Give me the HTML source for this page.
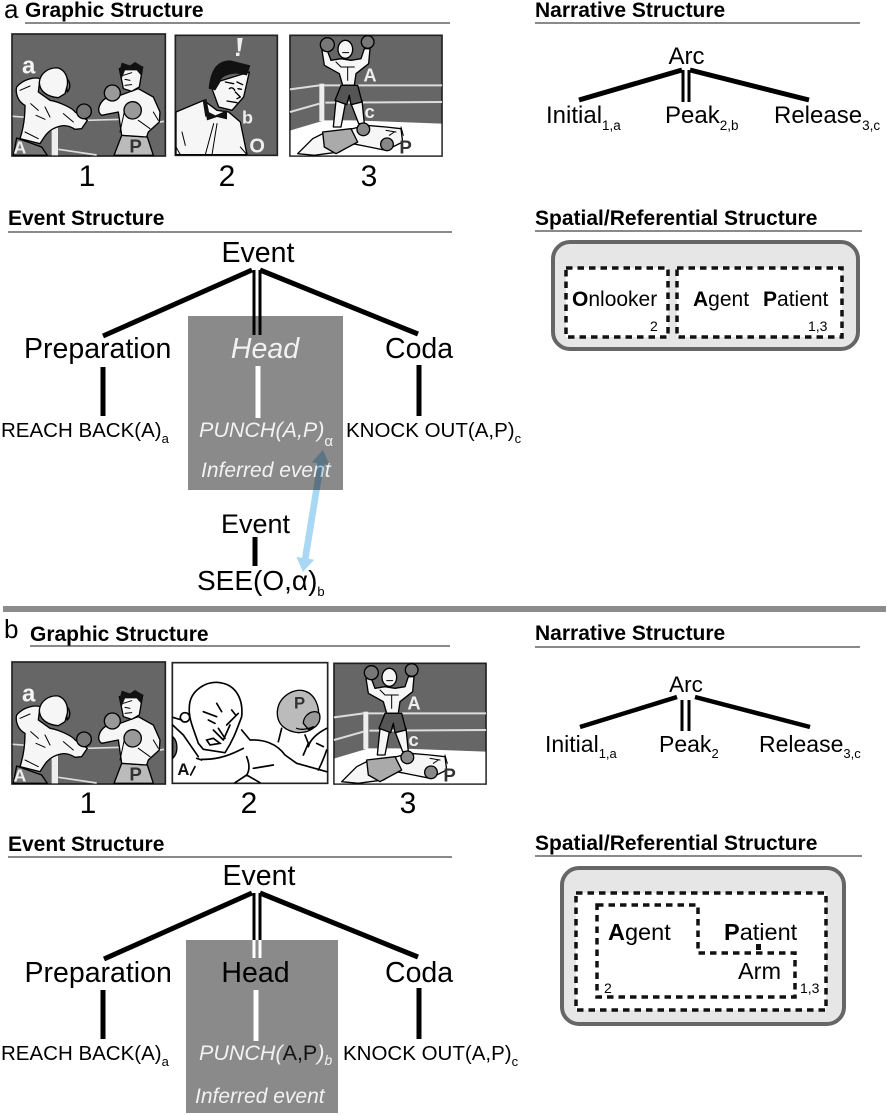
<!DOCTYPE html>
<html><head><meta charset="utf-8"><style>
html,body{margin:0;padding:0;background:#fff}
svg{display:block}
text{font-family:"Liberation Sans",Arial,sans-serif;fill:#000}
.h{font-weight:bold;font-size:21px}
.big{font-size:28.5px}
.mid{font-size:24px}
.sm{font-size:20.5px}
.num{font-size:30px;text-anchor:middle}
.it{font-style:italic;fill:#f2f2f2;font-size:21.5px}
.lab{font-weight:bold}
.ln{stroke:#000;fill:none}
.rule{stroke:#444;stroke-width:1.2}
.ol{stroke:#000;stroke-width:4;stroke-linejoin:round;stroke-linecap:round}
.thin{fill:none;stroke:#000;stroke-width:3;stroke-linecap:round;stroke-linejoin:round}
.fat{fill:none;stroke:#000;stroke-width:5;stroke-linecap:round;stroke-linejoin:round}
.dash{fill:#fff;stroke:#111;stroke-width:3.5;stroke-dasharray:6.5 5}
</style></head><body>
<svg width="887" height="1115" viewBox="0 0 887 1115" xmlns="http://www.w3.org/2000/svg">
<defs>
<g id="p1">
<rect x="6" y="6" width="460" height="366" fill="#666" stroke="#222" stroke-width="5"/>
<path d="M8 253L50 256M230 265L335 262M440 272L462 268M145 352L260 369" stroke="#ddd" stroke-width="5" fill="none"/>
<rect x="125" y="285" width="19" height="85" fill="#eee"/>
<path class="ol" fill="#777" d="M20 318L95 345L112 370H10z"/>
<path class="ol" fill="#f6f6f6" d="M20 165C40 140 75 135 90 140L85 180L120 205C150 210 190 230 195 240L232 265L215 290L195 292C170 275 150 280 130 290C110 300 100 320 90 335L30 320C40 290 45 260 45 220C25 210 15 185 20 165z"/>
<path class="thin" d="M62 215L85 235M105 225L120 255M78 250L105 262M30 175L60 162M160 245L190 270M45 300L85 320"/>
<path class="ol" fill="#777" d="M165 135C180 145 185 165 172 180z"/>
<path class="ol" fill="#f6f6f6" d="M88 150C92 120 120 105 145 108C165 115 175 135 172 160L165 185L145 197C115 195 88 180 88 150z"/>
<circle class="ol" cx="222" cy="238" r="22" fill="#777"/>
<path class="ol" fill="#bbb" d="M335 310L412 315L430 370H312z"/>
<path class="ol" fill="#f6f6f6" d="M330 190L385 170L430 195L450 240L448 270L415 300L410 315L335 310L325 240L275 250C260 240 265 215 285 200z"/>
<path class="ol" fill="#f6f6f6" d="M328 110L398 105L388 165L365 178L340 170z"/>
<path fill="#111" d="M328 118L335 92L360 100L375 90L400 105L393 130L380 115L345 115L335 140z"/>
<path class="thin" d="M340 130L365 122M345 160L365 158M345 142L360 145M385 265L420 290M430 240L445 265M345 230L330 300"/>
<circle class="ol" cx="307" cy="183" r="24" fill="#999"/>
<circle class="ol" cx="368" cy="235" r="26" fill="#999"/>
<text x="36" y="125" font-size="72" style="fill:#f4f4f4" class="lab">a</text>
<text x="10" y="365" font-size="54" style="fill:#eee" class="lab">A</text>
<text x="358" y="362" font-size="56" style="fill:#333" class="lab">P</text>
</g>
<g id="p3">
<rect x="12" y="10" width="456" height="362" fill="#666" stroke="#222" stroke-width="5"/>
<path d="M12 172L100 160M115 160L468 160M118 212L468 210M12 240L100 215" stroke="#ddd" stroke-width="6" fill="none"/>
<rect x="100" y="155" width="15" height="112" fill="#eee"/>
<path fill="#fff" d="M14 295L115 265L200 265L466 275V370H14z"/>
<path class="ol" fill="#f6f6f6" d="M150 205L142 285H165L178 215zM195 215L218 275H235L228 205z"/>
<path class="ol" fill="#f6f6f6" d="M108 55L125 58L135 85L165 80L195 85L225 80L235 50L252 50L248 95L210 125L205 160H170L160 125L115 100z"/>
<path class="ol" fill="#555" d="M165 160H215L228 210L195 218L190 190L182 218L147 205z"/>
<ellipse class="ol" cx="178" cy="52" rx="22" ry="27" fill="#f6f6f6"/>
<circle class="ol" cx="124" cy="38" r="21" fill="#777"/>
<circle class="ol" cx="245" cy="30" r="19" fill="#777"/>
<path class="thin" d="M165 105L205 105M185 105V145M150 90L165 105M170 62L188 62"/>
<path class="ol" fill="#f6f6f6" d="M35 365L80 320L120 300L200 290L240 280L300 285L345 290L350 330L300 355L250 345L200 335L160 360L120 365L85 370z"/>
<path class="ol" fill="#aaa" d="M110 300L195 290L215 330L150 365L115 345z"/>
<path class="thin" d="M300 295L330 300M310 310L325 300M345 285L352 310"/>
<circle class="ol" cx="232" cy="292" r="19" fill="#888"/>
<circle class="ol" cx="303" cy="337" r="19" fill="#888"/>
<text x="232" y="148" font-size="55" style="fill:#eee" class="lab">A</text>
<text x="235" y="258" font-size="56" style="fill:#eee" class="lab">c</text>
<text x="340" y="364" font-size="56" style="fill:#333" class="lab">P</text>
</g>
</defs>

<!-- PART A -->
<text x="4" y="18" font-size="26">a</text>
<text class="h" x="25" y="17">Graphic Structure</text>
<line class="rule" x1="25" y1="23" x2="450" y2="23"/>
<text class="h" x="535" y="17">Narrative Structure</text>
<line class="rule" x1="535" y1="23" x2="860" y2="23"/>
<g transform="translate(10,32) scale(.33333)"><use href="#p1"/></g>
<g transform="translate(172,32) scale(.33333)">
<rect x="10" y="10" width="306" height="360" fill="#666" stroke="#222" stroke-width="5"/>
<path class="ol" fill="#f6f6f6" d="M12 240L95 205L135 235L170 240L205 270L225 368H12z"/>
<path class="ol" fill="#f6f6f6" d="M135 150L232 120L215 195L180 235L140 225L120 170z"/>
<path fill="#111" d="M110 170C115 120 130 85 175 85L235 100L225 130L195 125C170 125 145 135 145 150L130 175z"/>
<path fill="#111" d="M92 205L103 200L112 245L100 255zM100 235L130 250L165 235L165 262L135 255L105 265z"/>
<path class="ol" fill="none" d="M165 207L195 212M160 150L185 155M195 150L212 158"/>
<path class="ol" fill="none" stroke-width="5" d="M172 170C178 165 185 168 188 175M198 170L208 172M190 180L205 195L195 200"/>
<path class="thin" d="M125 275L100 368M135 275L120 368M30 300L40 340M12 345L25 368M205 345L225 368"/>
<path fill="#eee" d="M196 18L212 18L205 58L198 58zM192 62L203 62L202 72L192 72z"/>
<text x="210" y="275" font-size="54" style="fill:#eee" class="lab">b</text>
<text x="232" y="362" font-size="60" style="fill:#eee" class="lab">O</text>
</g>
<g transform="translate(286,32) scale(.33333)"><use href="#p3"/></g>
<text class="num" x="87" y="186">1</text>
<text class="num" x="227" y="186">2</text>
<text class="num" x="369" y="186">3</text>

<!-- narrative a -->
<text class="mid" x="686.5" y="64" text-anchor="middle">Arc</text>
<path class="ln" stroke-width="5" d="M579 100L682 70M690 70L809 100"/>
<path class="ln" stroke-width="3" d="M683 70V102M689 70V102"/>
<text class="mid" x="546" y="123">Initial<tspan font-size="13.5" dy="7">1,a</tspan></text>
<text class="mid" x="665" y="123">Peak<tspan font-size="13.5" dy="7">2,b</tspan></text>
<text class="mid" x="774" y="123">Release<tspan font-size="13.5" dy="7">3,c</tspan></text>

<!-- event a -->
<text class="h" x="8" y="225">Event Structure</text>
<line class="rule" x1="8" y1="232" x2="452" y2="232"/>
<rect x="188" y="316" width="155" height="174" fill="#8a8a8a"/>
<text class="big" x="258" y="262" text-anchor="middle">Event</text>
<path class="ln" stroke-width="5" d="M103 336L252 270M260 270L418 334"/>
<path class="ln" stroke-width="3" d="M254 270V335M260 270V335"/>
<text class="big" x="24" y="358">Preparation</text>
<text class="big it" x="265" y="358" text-anchor="middle" style="font-size:28.5px">Head</text>
<text class="big" x="385" y="358">Coda</text>
<path class="ln" stroke-width="5" d="M103 367V416M419 365V416"/>
<path stroke="#fff" stroke-width="5" d="M258 366V418"/>
<text class="sm" x="1" y="437">REACH BACK(A)<tspan font-size="13" dy="6">a</tspan></text>
<text class="it" x="199" y="437">PUNCH(A,P)<tspan font-size="15" dy="9" style="font-style:normal">α</tspan></text>
<text class="sm" x="346" y="437">KNOCK OUT(A,P)<tspan font-size="13" dy="6">c</tspan></text>
<text class="it" x="201" y="477" style="font-size:21px">Inferred event</text>
<text x="221" y="533" font-size="27">Event</text>
<path class="ln" stroke-width="5" d="M255 537V566"/>
<text x="197" y="590" font-size="28">SEE(O,α)<tspan font-size="13" dy="6">b</tspan></text>
<path style="mix-blend-mode:multiply" fill="#a9d8f5" d="M323 450L329.6 465.3L324 464.3L308.6 558.7L314.2 559.7L303 572L296.4 556.7L302 557.7L317.4 463.3L311.8 462.3z"/>

<!-- spatial a -->
<text class="h" x="535" y="225">Spatial/Referential Structure</text>
<line class="rule" x1="535" y1="231" x2="862" y2="231"/>
<rect x="553" y="242" width="305" height="107" rx="17" fill="#e6e6e6" stroke="#666" stroke-width="4"/>
<rect class="dash" x="566" y="268" width="102" height="69"/>
<rect class="dash" x="677" y="268" width="165" height="69"/>
<text font-size="21" x="572" y="306"><tspan font-weight="bold">O</tspan>nlooker</text>
<text font-size="21" x="693" y="306"><tspan font-weight="bold">A</tspan>gent</text>
<text font-size="21" x="763" y="306"><tspan font-weight="bold">P</tspan>atient</text>
<text font-size="14" x="650" y="331">2</text>
<text font-size="14" x="808" y="331">1,3</text>

<rect x="3" y="606" width="883" height="6" fill="#8c8c8c"/>

<!-- PART B -->
<text x="4" y="638" font-size="26">b</text>
<text class="h" x="30" y="641">Graphic Structure</text>
<line class="rule" x1="30" y1="646" x2="450" y2="646"/>
<text class="h" x="535" y="640">Narrative Structure</text>
<line class="rule" x1="535" y1="647" x2="860" y2="647"/>
<g transform="translate(10,660) scale(.33333)"><use href="#p1"/></g>
<g transform="translate(330,660) scale(.33333)"><use href="#p3"/></g>
<g transform="translate(170,660) scale(.33333)">
<rect x="7" y="8" width="466" height="362" fill="#fff" stroke="#222" stroke-width="5"/>
<path d="M8 230C25 245 25 280 8 295z" fill="#666" stroke="#000" stroke-width="4"/>
<circle class="fat" cx="45" cy="172" r="14" fill="#fff"/>
<path class="fat" d="M58 140C60 90 110 62 150 68C200 75 220 120 215 170C200 210 190 240 165 278L100 268L85 250C70 205 55 175 58 140z" style="fill:#fff"/>
<path class="fat" d="M8 172L35 180M8 195L40 225L85 290M95 298C150 300 190 280 220 265M215 210L240 240C280 238 320 250 345 285L380 310L470 335M230 290C238 310 240 330 230 345M250 325L310 315M195 368L230 345L270 368M335 205L325 245M405 225L415 250L400 285M470 205C440 220 420 240 415 260M440 250L460 260M470 270C460 300 450 320 445 330M80 295L95 300"/>
<path class="fat" d="M100 155L140 170M205 160L170 195M115 180L135 190M140 130L155 155M185 150L197 165M130 210L160 240L180 195M145 205L165 235"/>
<path d="M110 240L130 235L150 250L120 255z" fill="#fff" stroke="#000" stroke-width="5"/>
<path class="ol" fill="#bbb" stroke-width="5" d="M322 155C325 110 370 85 400 92C435 100 450 140 445 175C445 200 420 218 385 218C350 215 320 195 322 155z"/>
<path class="ol" fill="#999" stroke-width="5" d="M400 190C400 165 430 145 448 160C455 185 440 205 415 208z"/>
<path class="ol" fill="none" stroke-width="5" d="M380 205C395 212 420 205 430 200"/>
<text x="372" y="146" font-size="50" style="fill:#333" class="lab">P</text>
<text x="22" y="345" font-size="50" style="fill:#111" class="lab">A</text>
<path class="fat" d="M62 345L75 320"/>
</g>
<text class="num" x="88" y="813">1</text>
<text class="num" x="249" y="813">2</text>
<text class="num" x="408" y="813">3</text>

<!-- narrative b -->
<text x="686" y="692" font-size="22.5" text-anchor="middle">Arc</text>
<path class="ln" stroke-width="4.5" d="M580 727L677 697M695 697L810 727"/>
<path class="ln" stroke-width="3" d="M682 700V731M689 700V731"/>
<text x="545" y="752" font-size="23">Initial<tspan font-size="13" dy="6">1,a</tspan></text>
<text x="659" y="752" font-size="23">Peak<tspan font-size="13" dy="6">2</tspan></text>
<text x="759" y="752" font-size="23">Release<tspan font-size="13" dy="6">3,c</tspan></text>

<!-- event b -->
<text class="h" x="8" y="851">Event Structure</text>
<line class="rule" x1="8" y1="857" x2="452" y2="857"/>
<rect x="186" y="940" width="152" height="173" fill="#8a8a8a"/>
<text class="big" x="259" y="885" text-anchor="middle">Event</text>
<path class="ln" stroke-width="5" d="M104 959L252 893M260 893L418 957"/>
<path class="ln" stroke-width="3" d="M254 893V940M260 893V940"/>
<path stroke="#fff" fill="none" stroke-width="3" d="M254 940V958M260 940V958"/>
<text class="big" x="24.5" y="982">Preparation</text>
<text class="big" x="255.5" y="982" text-anchor="middle">Head</text>
<text class="big" x="385" y="982">Coda</text>
<path class="ln" stroke-width="5" d="M103 990V1039M419 988V1039"/>
<path stroke="#fff" stroke-width="5" d="M256 990V1041"/>
<text class="sm" x="1" y="1060">REACH BACK(A)<tspan font-size="13" dy="6">a</tspan></text>
<text class="it" x="199" y="1060">PUNCH(<tspan style="font-style:normal;fill:#111">A,P</tspan>)<tspan font-size="14" dy="5">b</tspan></text>
<text class="sm" x="343" y="1060">KNOCK OUT(A,P)<tspan font-size="13" dy="6">c</tspan></text>
<text class="it" x="195" y="1103" style="font-size:21px">Inferred event</text>

<!-- spatial b -->
<text class="h" x="535" y="850">Spatial/Referential Structure</text>
<line class="rule" x1="535" y1="856" x2="862" y2="856"/>
<rect x="562" y="868" width="282" height="156" rx="17" fill="#e6e6e6" stroke="#666" stroke-width="4"/>
<rect class="dash" x="576" y="893" width="250" height="117"/>
<path class="dash" d="M597 905H698V953H795V997H597z"/>
<text font-size="23.5" x="608" y="940"><tspan font-weight="bold">A</tspan>gent</text>
<text font-size="23.5" x="724" y="940"><tspan font-weight="bold">P</tspan>atient</text>
<rect x="756" y="944" width="5" height="6" fill="#111"/>
<text font-size="23.5" x="738" y="979">Arm</text>
<text font-size="14" x="604" y="993">2</text>
<text font-size="14" x="800" y="993">1,3</text>
</svg>
</body></html>
